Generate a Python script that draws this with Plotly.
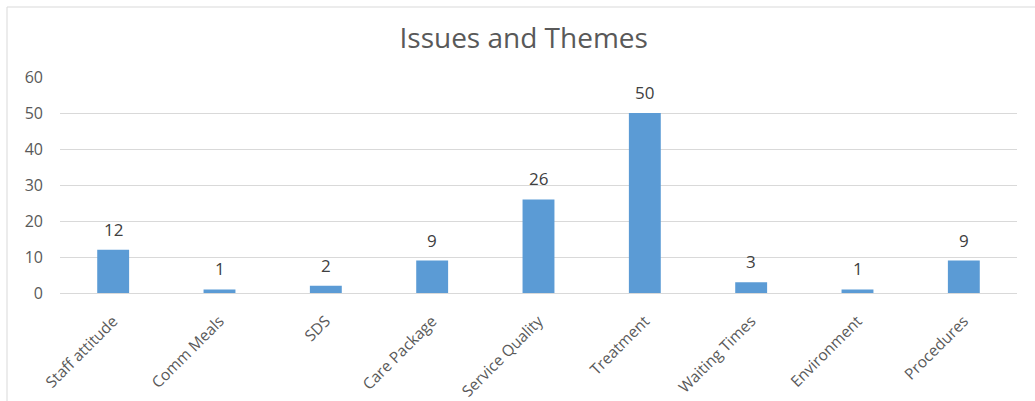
import plotly.graph_objects as go

categories = ["Staff attitude", "Comm Meals", "SDS", "Care Package", "Service Quality",
              "Treatment", "Waiting Times", "Environment", "Procedures"]
values = [12, 1, 2, 9, 26, 50, 3, 1, 9]
y_ticks = [0, 10, 20, 30, 40, 50, 60]

FONT = "Open Sans"
GREY = "#595959"

fig = go.Figure(go.Bar(
    x=categories, y=values,
    marker=dict(color="#5B9BD5", line=dict(width=0)),
    width=0.3,
))

for c, v in zip(categories, values):
    fig.add_annotation(x=c, y=v, text=str(v), showarrow=False, yanchor="bottom", yshift=7,
                       font=dict(family=FONT, size=17, color="#404040"))

fig.update_layout(
    width=1035, height=401,
    margin=dict(l=60, r=18, t=77, b=108),
    paper_bgcolor="white", plot_bgcolor="white",
    title=dict(text="Issues and Themes", x=0.506, xanchor="center", y=0.905, yanchor="middle",
               font=dict(family=FONT, size=28, color=GREY)),
    showlegend=False,
    xaxis=dict(tickangle=-45, tickfont=dict(family=FONT, size=15.5, color=GREY),
               showgrid=False, showline=True, linecolor="#D9D9D9", linewidth=1,
               ticks="", ticklabelstandoff=12, automargin=False),
    yaxis=dict(range=[0, 60], tickvals=y_ticks, tickfont=dict(family=FONT, size=16, color=GREY),
               showgrid=True, gridcolor="#D9D9D9", gridwidth=1, zeroline=False,
               showline=False, ticks="", ticklabelstandoff=16, automargin=False),
    shapes=[dict(type="rect", xref="paper", yref="paper",
                 x0=-53/957, x1=1.1, y0=-1, y1=1 + 70/216,
                 line=dict(color="#D9D9D9", width=1), fillcolor="rgba(0,0,0,0)", layer="below")],
)

fig.write_html("out.html")
